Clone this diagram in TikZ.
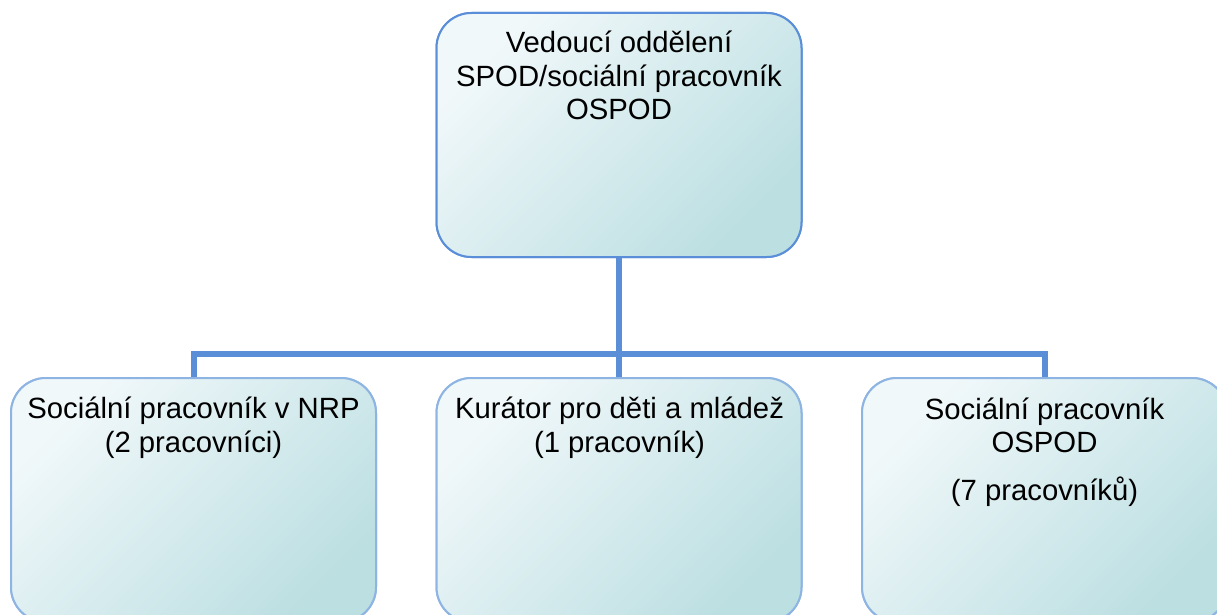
\documentclass[tikz,border=0pt]{standalone}
\usepackage{fontspec}
\setmainfont{Liberation Sans}
\definecolor{boxlight}{HTML}{F1F8FA}
\definecolor{boxdark}{HTML}{BCDFE2}
\definecolor{topborder}{HTML}{5A8ED8}
\definecolor{subborder}{HTML}{8DB4E2}
\definecolor{connblue}{HTML}{5A8ED6}
\tikzset{
  orgbox/.style={rectangle, rounded corners=35pt, minimum width=365pt, minimum height=244pt,
    inner sep=0pt, top color=boxlight, bottom color=boxdark, shading angle=45, line width=2pt},
  headbox/.style={orgbox, draw=topborder},
  subbox/.style={orgbox, draw=subborder},
  boxtext/.style={align=center, inner sep=0pt, anchor=base, font=\fontsize{29.3}{33.5}\selectfont},
  conn/.style={draw=connblue, line width=6pt}
}
\begin{document}
\begin{tikzpicture}[x=1pt,y=-1pt]
\clip (0,0) rectangle (1217,615);
\fill[white] (0,0) rectangle (1217,615);
\node[headbox] (head) at (619,135) {};
\node[subbox] (left) at (193.5,500) {};
\node[subbox] (mid) at (619,500) {};
\node[subbox] (right) at (1044.5,500) {};
\coordinate (bar) at (619,354);
\draw[conn] (head.south) -- (mid.north);
\draw[conn] (left.north) |- (bar) -| (right.north);
% redraw boxes on top of connector ends
\node[headbox] at (619,135) {};
\node[subbox] at (193.5,500) {};
\node[subbox] at (619,500) {};
\node[subbox] at (1044.5,500) {};
% texts (base anchor = baseline of last line)
\node[boxtext] (headtext) at (619,120) {Vedoucí oddělení\\SPOD/sociální pracovník\\OSPOD};
\node[boxtext] (lefttext) at (193.5,452) {Sociální pracovník v NRP\\(2 pracovníci)};
\node[boxtext] (midtext) at (619.5,452) {Kurátor pro děti a mládež\\(1 pracovník)};
\node[boxtext] (righttext) at (1044.5,500) {Sociální pracovník\\OSPOD\\[14pt](7 pracovníků)};
\end{tikzpicture}
\end{document}
